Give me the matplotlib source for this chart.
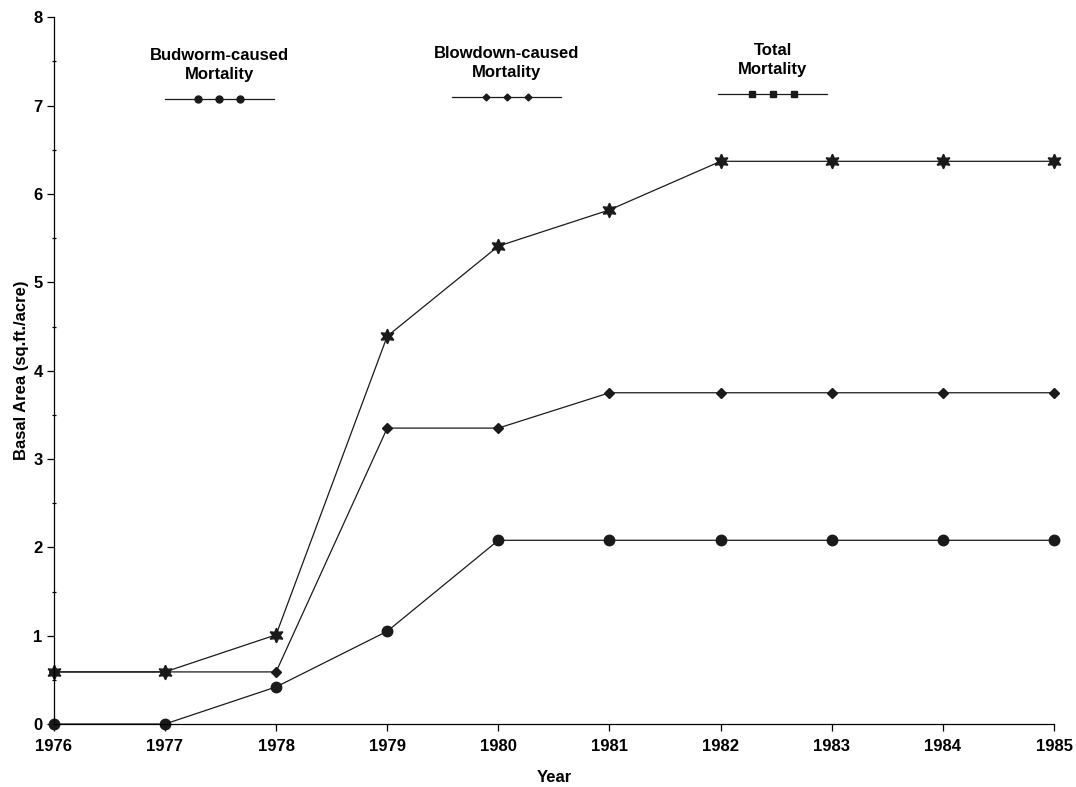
import matplotlib.pyplot as plt
import numpy as np

plt.rcParams['font.family'] = ['Liberation Sans', 'DejaVu Sans']
plt.rcParams['font.weight'] = 'bold'
plt.rcParams['axes.labelweight'] = 'bold'

# 年份与三类死亡的胸高断面积 (sq.ft./acre)
years = [1976, 1977, 1978, 1979, 1980, 1981, 1982, 1983, 1984, 1985]
budworm = [0.0, 0.0, 0.42, 1.05, 2.08, 2.08, 2.08, 2.08, 2.08, 2.08]
blowdown = [0.59, 0.59, 0.59, 3.35, 3.35, 3.75, 3.75, 3.75, 3.75, 3.75]
total = [0.59, 0.59, 1.01, 4.39, 5.41, 5.82, 6.37, 6.37, 6.37, 6.37]

labels = ['Budworm-caused\nMortality', 'Blowdown-caused\nMortality', 'Total\nMortality']
star6 = (6, 1, 0)

fig = plt.figure(figsize=(10.76, 7.87), dpi=100)
ax = fig.add_axes([0.050, 0.080, 0.9296, 0.898])

lw = 0.9
ax.plot(years, budworm, color='#1a1a1a', lw=lw, marker='o', ms=7.5, clip_on=False)
ax.plot(years, blowdown, color='#1a1a1a', lw=lw, marker='D', ms=5.5, clip_on=False)
ax.plot(years, total, color='#1a1a1a', lw=lw, marker=star6, ms=10.5, clip_on=False)

ax.set_xlim(1976, 1985)
ax.set_ylim(0, 8)
ax.set_xticks(years)
ax.set_yticks(np.arange(0, 9, 1))
ax.set_yticks(np.arange(0.5, 8, 1), minor=True)
ax.tick_params(direction='out', length=5, width=0.9, labelsize=12, pad=3)
ax.tick_params(axis='x', pad=6)
ax.tick_params(axis='y', which='minor', direction='inout', length=3, width=0.9)
for s in ['top', 'right']:
    ax.spines[s].set_visible(False)
for s in ['left', 'bottom']:
    ax.spines[s].set_linewidth(0.9)

ax.set_xlabel('Year', fontsize=12, labelpad=11)
ax.set_ylabel('Basal Area (sq.ft./acre)', fontsize=12, labelpad=3)

# 图例：标题在上，下面一段带三个标记的线
leg_x = [0.1655, 0.453, 0.719]
leg_y = [0.884, 0.887, 0.891]
leg_markers = [('o', 5), ('D', 3.5), ('s', 4)]
for cx, ly, lab, (m, ms) in zip(leg_x, leg_y, labels, leg_markers):
    ax.text(cx, ly + 0.025, lab, transform=ax.transAxes, ha='center', va='bottom',
            fontsize=12, linespacing=1.3)
    ax.plot([cx - 0.0545, cx + 0.0545], [ly, ly], transform=ax.transAxes,
            color='#1a1a1a', lw=lw, clip_on=False)
    ax.plot([cx - 0.021, cx, cx + 0.021], [ly] * 3, transform=ax.transAxes,
            color='#1a1a1a', ls='none', marker=m, ms=ms, clip_on=False)

plt.savefig('out.png', dpi=100)
